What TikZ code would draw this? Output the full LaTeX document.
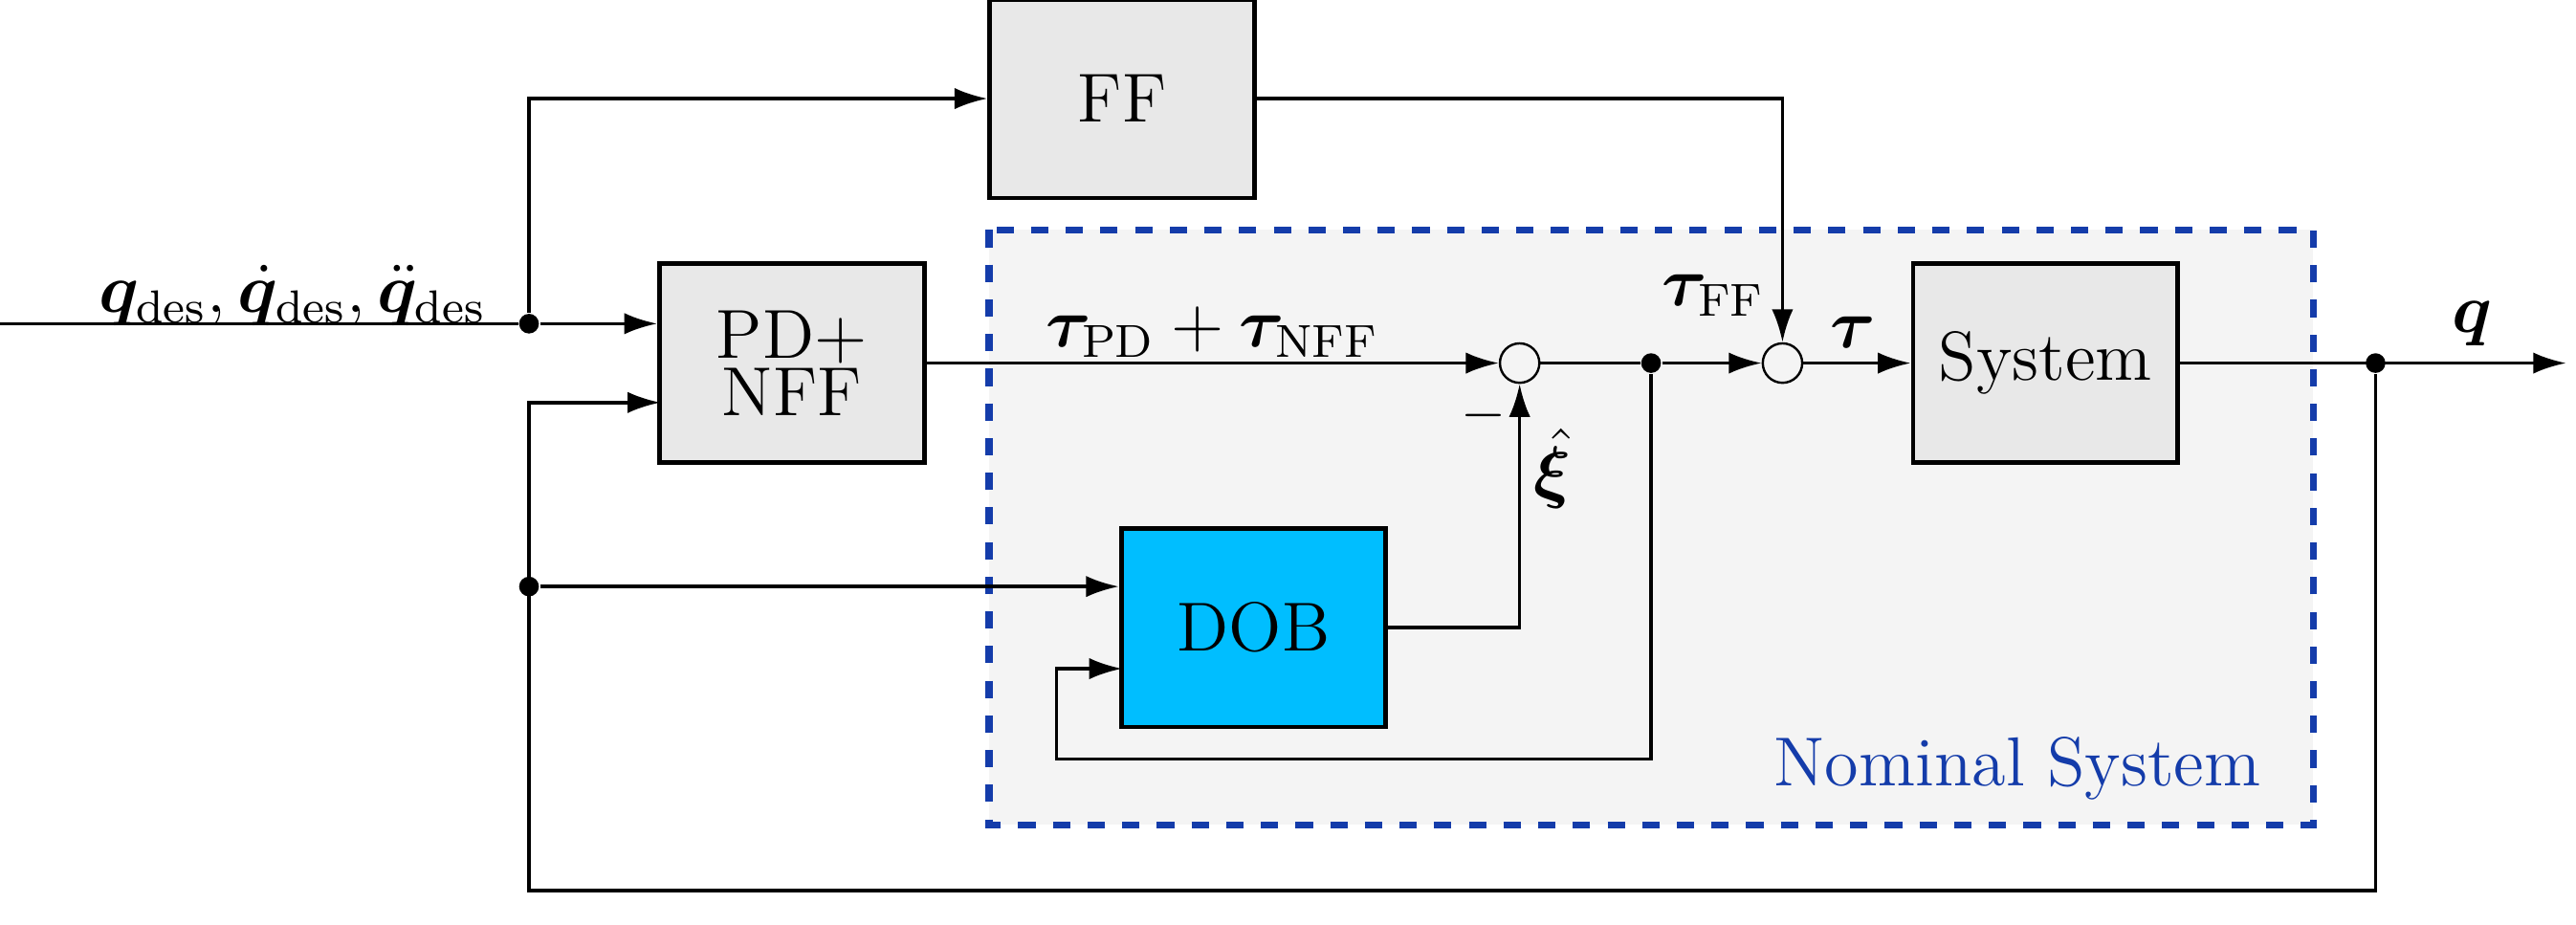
\documentclass[tikz,border=0pt]{standalone}
\usepackage{amsmath,bm}
\usetikzlibrary{arrows.meta,positioning}
\definecolor{NomBlue}{RGB}{20,60,170}
\definecolor{DobCyan}{RGB}{0,190,255}
\tikzset{
  block/.style={draw, thick, fill=gray!18, minimum width=1.61cm, minimum height=1.21cm, inner sep=0pt, align=center},
  sum/.style={draw, circle, minimum size=0.24cm, inner sep=0pt},
  dot/.style={circle, fill, inner sep=0pt, minimum size=0.12cm},
  sig/.style={-{Latex[length=2mm,width=1.3mm]}, semithick},
  wire/.style={semithick}
}
\begin{document}
\begin{tikzpicture}[x=0.01cm,y=-0.01cm]
\useasboundingbox (0,0) rectangle (1568,563);
% nominal system frame
\draw[NomBlue, very thick, dashed, fill=gray!9] (602,140) rectangle (1408,502);
\node[NomBlue, font=\large] (nomlbl) at (1228,468) {Nominal System};
% blocks
\node[block] (ff) at (683,60) {\large FF};
\node[block] (pd) at (482,221) {\large PD+\\[-2pt]\large NFF};
\node[block] (sys) at (1245,221) {\large System};
\node[block, fill=DobCyan] (dob) at (763,382) {\large DOB};
\node[sum] (s1) at (925,221) {};
\node[sum] (s2) at (1085,221) {};
% junctions
\node[dot] (jin) at (322,197) {};
\node[dot] (jdob) at (322,357) {};
\node[dot] (jtau) at (1005,221) {};
\node[dot] (jout) at (1446,221) {};
\coordinate (start) at (0,197);
\coordinate (qend) at (1562,221);
% signals
\draw[wire] (start) -- (jin);
\draw[sig] (jin) -- (jin -| pd.west);
\draw[sig] (jin) |- (ff.west);
\draw[sig] (pd.east) -- (s1.west);
\draw[wire] (s1.east) -- (jtau);
\draw[sig] (jtau) -- (s2.west);
\draw[sig] (s2.east) -- (sys.west);
\draw[sig] (sys.east) -- (qend);
\draw[sig] (ff.east) -| (s2.north);
\draw[sig] (dob.east) -| (s1.south);
\draw[sig] (jtau) |- (643,462) |- (683,407);
\draw[sig] (jdob) -- (jdob -| dob.west);
\draw[sig] (jout) |- (322,542) |- (402,245);
% labels
\node (lq) at (178,180) {\large $\bm{q}_{\text{des}},\dot{\bm{q}}_{\text{des}},\ddot{\bm{q}}_{\text{des}}$};
\node (ltpd) at (738,202) {\large $\bm{\tau}_{\text{PD}}+\bm{\tau}_{\text{NFF}}$};
\node (lmin) at (903,253) {$-$};
\node (lxi) at (945,285) {\large $\hat{\bm{\xi}}$};
\node (ltff) at (1043,180) {\large $\bm{\tau}_{\text{FF}}$};
\node (ltau) at (1128,202) {\large $\bm{\tau}$};
\node (lqo) at (1505,197) {\large $\bm{q}$};
\end{tikzpicture}
\end{document}
